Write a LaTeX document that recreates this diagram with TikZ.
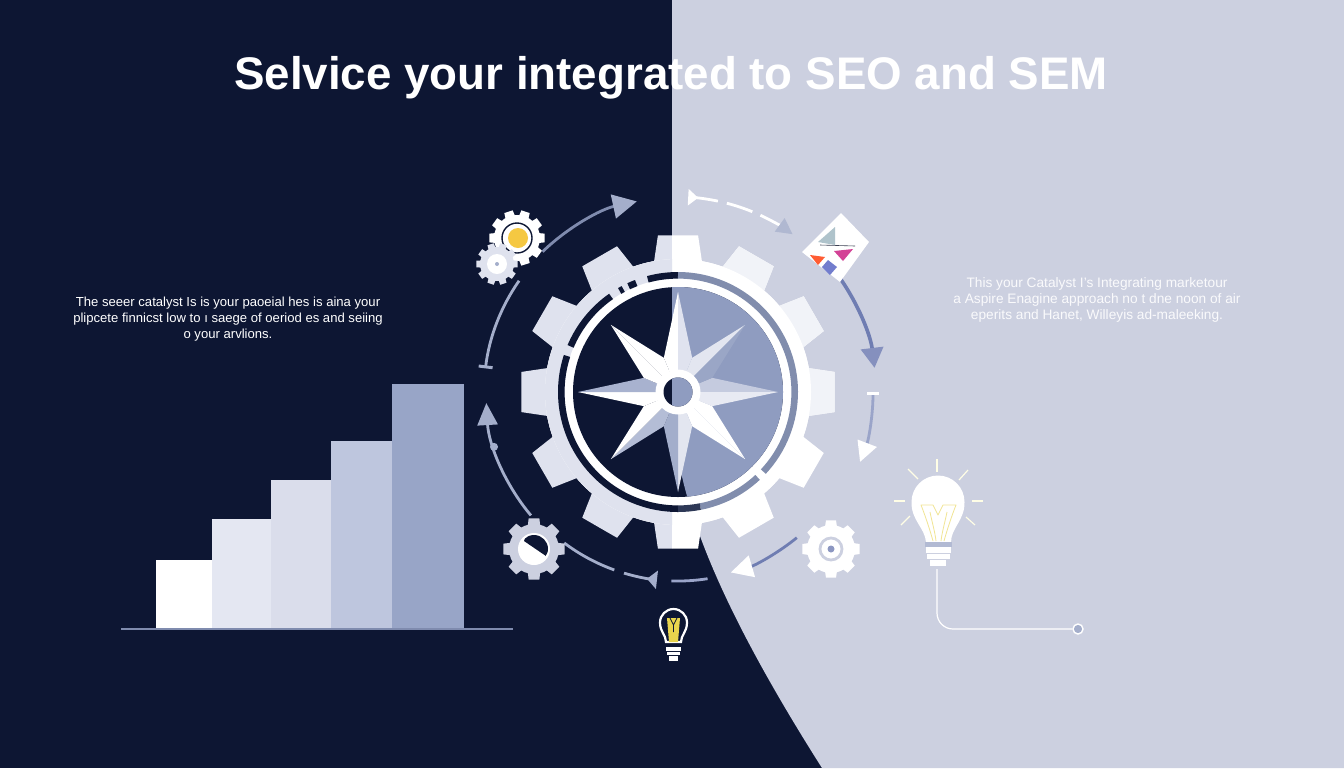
\documentclass[tikz,border=0pt]{standalone}
\usepackage{fontspec}
\setmainfont{Liberation Sans}
\usetikzlibrary{arrows.meta}
\definecolor{navy}{HTML}{0D1633}
\definecolor{paleside}{HTML}{CCD0E0}
\definecolor{gearleft}{HTML}{DFE2EE}
\definecolor{gearright}{HTML}{F1F3F8}
\definecolor{steel}{HTML}{8F9CC0}
\definecolor{orbitdark}{HTML}{7F8BAE}
\definecolor{orbitpale}{HTML}{A4AECB}
\definecolor{orbitblue}{HTML}{6F7DB2}
\definecolor{lampyellow}{HTML}{E8D44D}
\definecolor{sunyellow}{HTML}{F5C842}
\newcommand{\paleregion}{(672,0) -- (672,400) .. controls (675,470) and (690,560) .. (822,768) -- (1344,768) -- (1344,0) -- cycle}
\newcommand{\cogwheel}[7]{%
	\fill[#7] (#1) circle[radius=#2];
	\foreach \k in {1,...,#4}{
		\pgfmathsetmacro{\a}{\k*360/#4}
		\fill[#7,shift={(#1)}] (\a-#5:#2-1) -- (\a-#6:#3) -- (\a+#6:#3) -- (\a+#5:#2-1) -- cycle;
	}}
\begin{document}
\begin{tikzpicture}[x=0.5pt,y=-0.5pt,
	orbit/.style={line width=1.4pt},
	ray/.style={draw=white!90!yellow,line width=0.6pt},
	gearcut/.style={line width=3.3pt}]

	\useasboundingbox (0,0) rectangle (1344,768);
	\fill[navy] (0,0) rectangle (1344,768);
	\fill[paleside] \paleregion;

	\coordinate (hub) at (678,392);

	% main wheel
	\begin{scope}
		\clip (0,0) rectangle (672,768);
		\cogwheel{hub}{133}{158}{12}{10.5}{7.3}{gearleft}
	\end{scope}
	\begin{scope}
		\clip (672,0) rectangle (1344,768);
		\cogwheel{hub}{133}{158}{12}{10.5}{7.3}{white}
	\end{scope}
	\begin{scope}[shift={(hub)}]
		\foreach \a in {-60,-30,0}{
			\fill[gearright] (\a-10.5:132) -- (\a-7.3:158) -- (\a+7.3:158) -- (\a+10.5:132) -- cycle;
		}
	\end{scope}
	\fill[white] (hub) circle[radius=133];
	\begin{scope}
		\clip (0,0) rectangle (672,768);
		\fill[gearleft] (hub) circle[radius=133];
	\end{scope}
	\fill[white] (hub) circle[radius=113.5];
	\draw[gearcut,navy] (hub) ++(90:116.7) arc[start angle=90,end angle=198,radius=116.7];
	\draw[gearcut,navy] (hub) ++(203:116.7) arc[start angle=203,end angle=235,radius=116.7];
	\draw[gearcut,navy] (hub) ++(240:116.7) arc[start angle=240,end angle=242,radius=116.7];
	\draw[gearcut,navy] (hub) ++(245:116.7) arc[start angle=245,end angle=249,radius=116.7];
	\draw[gearcut,navy] (hub) ++(255:116.7) arc[start angle=255,end angle=270,radius=116.7];
	\draw[gearcut,steel!90!black] (hub) ++(270:116.7) arc[start angle=270,end angle=403,radius=116.7];
	\draw[gearcut,steel!90!black] (hub) ++(47:116.7) arc[start angle=47,end angle=79,radius=116.7];
	\draw[gearcut,navy!75!steel] (hub) ++(79:116.7) arc[start angle=79,end angle=90,radius=116.7];

	\fill[navy] (hub) circle[radius=105];
	\begin{scope}
		\clip \paleregion;
		\fill[steel] (hub) circle[radius=105];
	\end{scope}

	% compass star
	\begin{scope}[shift={(hub)}]
		\foreach \a/\r/\p/\q in {0/100/C5CBDF/E8EAF3,45/95/FFFFFF/FFFFFF,90/100/E3E6F0/A3AECB,135/95/B4BDD6/FFFFFF,180/100/FFFFFF/A8B2CF,225/95/FFFFFF/FFFFFF,270/100/FFFFFF/E0E3EF,315/95/E3E6F0/9AA6C6}{
			\definecolor{facetone}{HTML}{\p}
			\definecolor{facettwo}{HTML}{\q}
			\fill[facetone] (0,0) -- (\a-22.5:37) -- (\a:\r) -- cycle;
			\fill[facettwo] (0,0) -- (\a:\r) -- (\a+22.5:37) -- cycle;
		}
	\end{scope}
	\fill[white] (hub) circle[radius=22.5];
	\fill[navy] (hub) circle[radius=14.5];
	\begin{scope}
		\clip (672,0) rectangle (1344,768);
		\fill[steel] (hub) circle[radius=14.5];
	\end{scope}

	% bars
	\foreach \xa/\xb/\top/\c in {156/212/560/FFFFFF,212/271/519/E4E7F2,271/331/480/DADDEB,331/392/441/BEC6DE,392/464/384/98A5C7}{
		\definecolor{barfill}{HTML}{\c}
		\fill[barfill] (\xa,\top) rectangle (\xb,629);
	}
	\coordinate (axisleft) at (121,629);
	\coordinate (axisright) at (513,629);
	\draw[orbitdark,line width=0.6pt] (axisleft) -- (axisright);

	% orbit arcs
	\draw[orbit,orbitdark,-{Triangle[length=12pt,width=12pt,color=orbitpale]}] (hub) ++(226:195) arc[start angle=226,end angle=257.8,radius=195];
	\draw[orbit,orbitpale,{Bar[width=7pt,line width=1.5pt,color=orbitpale]}-] (hub) ++(187:194) arc[start angle=187,end angle=215,radius=194];
	\draw[orbit,orbitpale,-{Triangle[length=11pt,width=10pt]}] (hub) ++(140:192) arc[start angle=140,end angle=176.7,radius=192];
	\fill[orbitpale] (hub) ++(163.4:192) circle[radius=4];
	\draw[orbit,orbitpale] (hub) ++(127:189) arc[start angle=127,end angle=109.7,radius=189];
	\draw[orbit,orbitpale,-{Triangle[reversed,length=5pt,width=9pt]}] (hub) ++(106.6:189) arc[start angle=106.6,end angle=96.4,radius=189];
	\draw[orbit,orbitblue!70!white] (hub) ++(92:189) arc[start angle=92,end angle=81,radius=189];
	\draw[orbit,orbitblue,-{Triangle[length=11pt,width=11pt,color=white]}] (hub) ++(50.8:188) arc[start angle=50.8,end angle=73.7,radius=188];
	\draw[line width=1.8pt,orbitblue,-{Triangle[length=10pt,width=11pt,color=orbitblue!85!white]}] (hub) ++(-35:198) arc[start angle=-35,end angle=-7,radius=198];
	\draw[orbit,orbitblue!70!white,{Bar[width=6pt,line width=1.6pt,color=white]}-{Triangle[length=10pt,width=10pt,color=white]}] (hub) ++(0:195) arc[start angle=0,end angle=21,radius=195];
	\draw[orbit,white,{Triangle[reversed,length=5pt,width=8pt]}-] (hub) ++(-87:195) arc[start angle=-87,end angle=-78.2,radius=195];
	\draw[orbit,white] (hub) ++(-75.5:195) arc[start angle=-75.5,end angle=-67.6,radius=195];
	\draw[orbit,white,-{Triangle[length=8pt,width=8pt,color=orbitpale!70!paleside]}] (hub) ++(-65:195) arc[start angle=-65,end angle=-54,radius=195];

	% small gears
	\coordinate (gearsun) at (517,238);
	\coordinate (gearsmall) at (497,264);
	\coordinate (gearpie) at (534,549);
	\coordinate (geardot) at (831,549);
	\cogwheel{gearsun}{23}{28}{10}{13}{9}{white}
	\draw[navy,line width=0.7pt,fill=white] (gearsun) circle[radius=15];
	\fill[sunyellow] (518,238) circle[radius=10];
	\cogwheel{gearsmall}{17}{21}{10}{13}{9}{gearleft}
	\fill[white] (gearsmall) circle[radius=10];
	\fill[orbitpale] (gearsmall) circle[radius=2];
	\cogwheel{gearpie}{25}{31}{8}{15}{10}{paleside}
	\fill[white] (gearpie) circle[radius=16];
	\begin{scope}
		\clip (gearpie) circle[radius=14];
		\fill[navy] (524,541) -- (546,556) -- (556,530) -- (530,525) -- cycle;
	\end{scope}
	\cogwheel{geardot}{24}{29}{8}{15}{10}{white}
	\draw[paleside,line width=1.4pt] (geardot) circle[radius=11];
	\fill[orbitblue!80!white] (geardot) circle[radius=3.5];

	% tile with triangles
	\fill[white] (841,213) -- (869,242) -- (840,282) -- (802,252) -- cycle;
	\fill[cyan!25!gray!60!white] (818,242) -- (835,227) -- (835,245) -- cycle;
	\fill[red!60!orange!80!white] (810,255) -- (825,257) -- (818,265) -- cycle;
	\fill[magenta!70!gray] (834,251) -- (853,249) -- (843,261) -- cycle;
	\fill[steel!80!blue] (828,260) -- (837,267) -- (830,275) -- (822,267) -- cycle;
	\draw[navy!60!gray,line width=0.3pt] (820,245) -- (855,246);

	% bulb by the hub
	\draw[white,line width=1.1pt,fill=navy] (666,642) .. controls (666,635) and (660,632) .. (660,622.5) arc[start angle=180,end angle=360,radius=13.5] .. controls (687,632) and (681,635) .. (681,642) -- cycle;
	\fill[lampyellow] (667,618) -- (680,618) -- (679,630) -- (678,642) -- (669,642) -- (668,630) -- cycle;
	\draw[navy,line width=0.4pt] (670,618) -- (673.5,625) -- (677,618) (673.5,625) -- (673.5,632);
	\foreach \ya/\yb/\xa/\xb in {647/651/666/681,652/655/667/680,656/661/669/678}{
		\fill[white] (\xa,\ya) rectangle (\xb,\yb);
	}

	% big bulb
	\fill[white] (926,542) .. controls (925,528) and (911,520) .. (911.5,502) arc[start angle=180,end angle=360,radius=26.5] .. controls (965,520) and (951,528) .. (951,542) -- cycle;
	\draw[lampyellow!60!white,line width=0.4pt,line join=round] (933,541) .. controls (930,530) and (925,515) .. (921,505) -- (933,505) -- (938,515) -- (943,505) -- (956,505) .. controls (952,515) and (947,530) .. (944,541);
	\draw[lampyellow!60!white,line width=0.4pt] (930,512) .. controls (932,522) and (935,532) .. (936,541) (947,512) .. controls (945,522) and (942,532) .. (941,541);
	\fill[orbitpale!85!white] (925,542) rectangle (952,547);
	\foreach \ya/\yb/\xa/\xb in {547/553/926/951,554/559/927/950,560/566/930/946}{
		\fill[white] (\xa,\ya) rectangle (\xb,\yb);
	}
	\draw[ray] (937,459) -- (937,472);
	\draw[ray] (968,470) -- (959,480);
	\draw[ray] (972,501) -- (983,501);
	\draw[ray] (966,517) -- (975,525);
	\draw[ray] (910,516) -- (901,525);
	\draw[ray] (894,501) -- (905,501);
	\draw[ray] (908,469) -- (918,479);

	\coordinate (lampfoot) at (937,569);
	\node[circle,draw=white,line width=0.7pt,fill=orbitpale,minimum size=5pt,inner sep=0pt] (lampend) at (1078,629) {};
	\draw[white,line width=0.6pt,rounded corners=8pt] (lampfoot) |- (lampend);

	% texts
	\node[text=white,font=\fontsize{22.85}{27}\selectfont\bfseries] (title) at (671,78) {Selvice your integrated to SEO and SEM};
	\node[text=white,align=center,font=\fontsize{6.55}{8}\selectfont] (lefttext) at (228,319) {The seeer catalyst Is is your paoeial hes is aina your\\plipcete finnicst low to ı saege of oeriod es and seiing\\o your arvlions.};
	\node[text=white!90!paleside,align=center,font=\fontsize{6.85}{8}\selectfont] (righttext) at (1097,300) {This your Catalyst I's Integrating marketour\\a Aspire Enagine approach no t dne noon of air\\eperits and Hanet, Willeyis ad-maleeking.};

\end{tikzpicture}
\end{document}
